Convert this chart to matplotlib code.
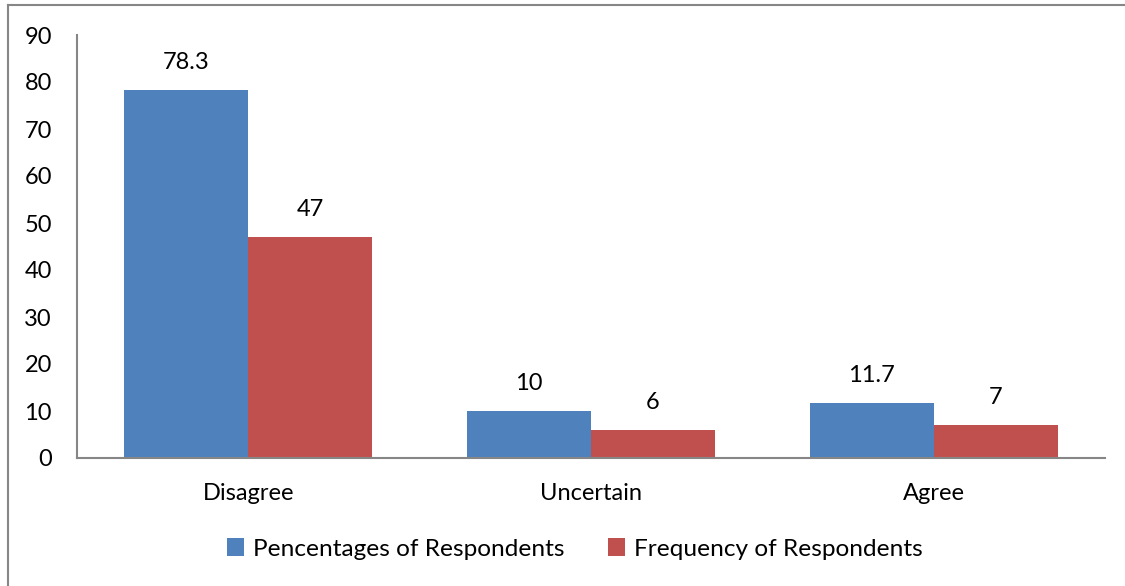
import numpy as np
import matplotlib.pyplot as plt
from matplotlib.lines import Line2D

categories = ['Disagree', 'Uncertain', 'Agree']
percentages = [78.3, 10, 11.7]
frequency = [47, 6, 7]
series_names = ['Pencentages of Respondents', 'Frequency of Respondents']
yticks = [0, 10, 20, 30, 40, 50, 60, 70, 80, 90]

BLUE = '#4F81BD'
RED = '#C0504D'
GREY = '#868686'
FS = 17

plt.rcParams['font.family'] = ['Lato', 'DejaVu Sans']

W, H = 1125, 586
fig = plt.figure(figsize=(W / 100, H / 100), dpi=100)
ax = fig.add_axes([77 / W, 1 - 458 / H, (1105 - 77) / W, (458 - 35) / H])

x = np.arange(len(categories))
width = 0.362
b1 = ax.bar(x - width / 2, percentages, width, color=BLUE, label=series_names[0])
b2 = ax.bar(x + width / 2, frequency, width, color=RED, label=series_names[1])

for bars, vals in ((b1, percentages), (b2, frequency)):
    for rect, v in zip(bars, vals):
        ax.annotate(f'{v:g}', (rect.get_x() + rect.get_width() / 2, rect.get_height()),
                    xytext=(0, 12), textcoords='offset points',
                    ha='center', va='bottom', fontsize=FS)

ax.set_xlim(-0.5, 2.5)
ax.set_ylim(0, 90)
ax.set_yticks(yticks)
ax.set_xticks(x)
ax.set_xticklabels(categories)
ax.tick_params(axis='both', length=0, labelsize=FS)
ax.tick_params(axis='y', pad=18)
ax.tick_params(axis='x', pad=18)
for s in ('top', 'right'):
    ax.spines[s].set_visible(False)
for s in ('left', 'bottom'):
    ax.spines[s].set_color(GREY)
    ax.spines[s].set_linewidth(1.5)

leg = fig.legend(handles=[b1, b2], loc='center', bbox_to_anchor=(575 / W, 1 - 549 / H),
                 ncol=2, frameon=False, fontsize=17.6, handlelength=0.7, handleheight=0.7,
                 handletextpad=0.35, columnspacing=1.8)

# outer chart border (left and top visible)
fig.add_artist(Line2D([8 / W, 8 / W], [0, 1 - 5 / H], color=GREY, lw=1.5, transform=fig.transFigure))
fig.add_artist(Line2D([8 / W, 1], [1 - 5 / H, 1 - 5 / H], color=GREY, lw=1.5, transform=fig.transFigure))

fig.savefig('out.png', dpi=100)
